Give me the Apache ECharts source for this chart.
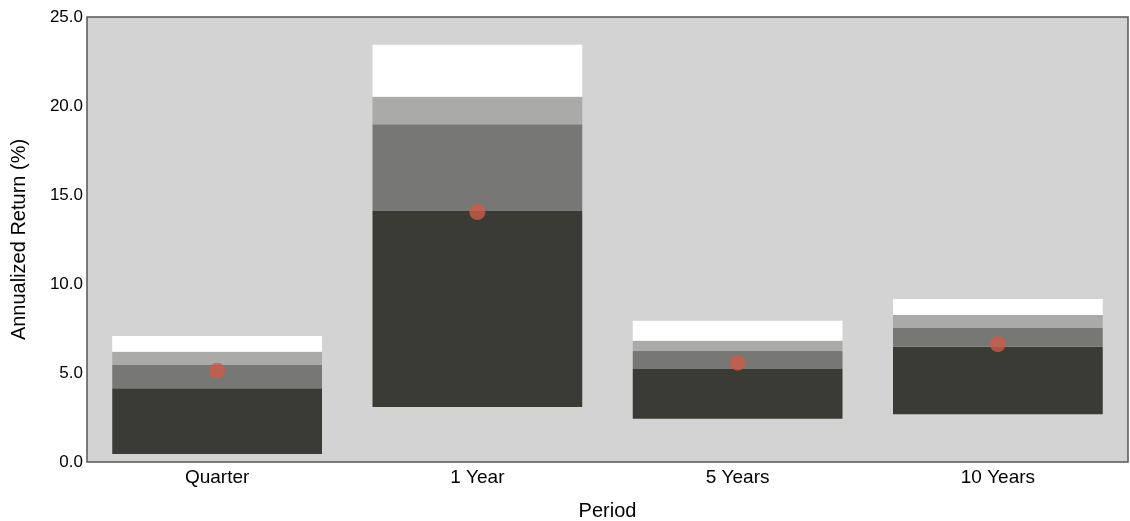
<!DOCTYPE html>
<html>
<head>
<meta charset="utf-8">
<script src="https://cdn.jsdelivr.net/npm/echarts@6/dist/echarts.min.js"></script>
<style>
  html, body { margin: 0; padding: 0; background: #fff; }
  #main { width: 1130px; height: 521px; }
</style>
</head>
<body>
<div id="main"></div>
<script>
var periods = ['Quarter', '1 Year', '5 Years', '10 Years'];
// band edges, bottom to top (annualized return, %)
var low   = [0.45, 3.09, 2.43, 2.68];
var p25   = [4.14, 14.10, 5.22, 6.48];
var p50   = [5.45, 18.97, 6.24, 7.53];
var p75   = [6.20, 20.52, 6.81, 8.26];
var high  = [7.08, 23.44, 7.94, 9.16];
var fund  = [5.13, 14.04, 5.58, 6.63];

function diff(a, b) {
    return a.map(function (v, i) { return +(v - b[i]).toFixed(2); });
}

var myChart = echarts.init(document.getElementById('main'));

var font = '"Liberation Sans", Arial, sans-serif';

myChart.setOption({
    animation: false,
    grid: {
        left: 87,
        right: 2,
        top: 17,
        bottom: 59,
        outerBoundsMode: 'none',
        show: true,
        backgroundColor: '#d3d3d3',
        borderColor: '#555555',
        borderWidth: 1.5
    },
    xAxis: {
        type: 'category',
        data: periods,
        name: 'Period',
        nameLocation: 'middle',
        nameGap: 39,
        nameTextStyle: { color: '#000', fontSize: 20, fontFamily: font },
        axisLine: { show: false },
        axisTick: { show: false },
        axisLabel: { color: '#000', fontSize: 19, fontFamily: font, margin: 6 }
    },
    yAxis: {
        type: 'value',
        min: 0,
        max: 25,
        interval: 5,
        name: 'Annualized Return (%)',
        nameLocation: 'middle',
        nameGap: 58,
        nameTextStyle: { color: '#000', fontSize: 20, fontFamily: font },
        axisLine: { show: false },
        axisTick: { show: false },
        splitLine: { show: false },
        axisLabel: {
            color: '#000', fontSize: 17, fontFamily: font, margin: 4,
            formatter: function (v) { return v.toFixed(1); }
        }
    },
    series: [
        {
            type: 'bar', stack: 'r', barWidth: '80.6%',
            itemStyle: { color: 'transparent' },
            data: low
        },
        {
            type: 'bar', stack: 'r',
            itemStyle: { color: '#3b3b35' },
            data: diff(p25, low)
        },
        {
            type: 'bar', stack: 'r',
            itemStyle: { color: '#777775' },
            data: diff(p50, p25)
        },
        {
            type: 'bar', stack: 'r',
            itemStyle: { color: '#aaaaa8' },
            data: diff(p75, p50)
        },
        {
            type: 'bar', stack: 'r',
            itemStyle: { color: '#ffffff' },
            data: diff(high, p75)
        },
        {
            type: 'scatter',
            symbolSize: 16,
            itemStyle: { color: '#cd5b47' },
            z: 5,
            data: fund
        }
    ]
});
</script>
</body>
</html>
